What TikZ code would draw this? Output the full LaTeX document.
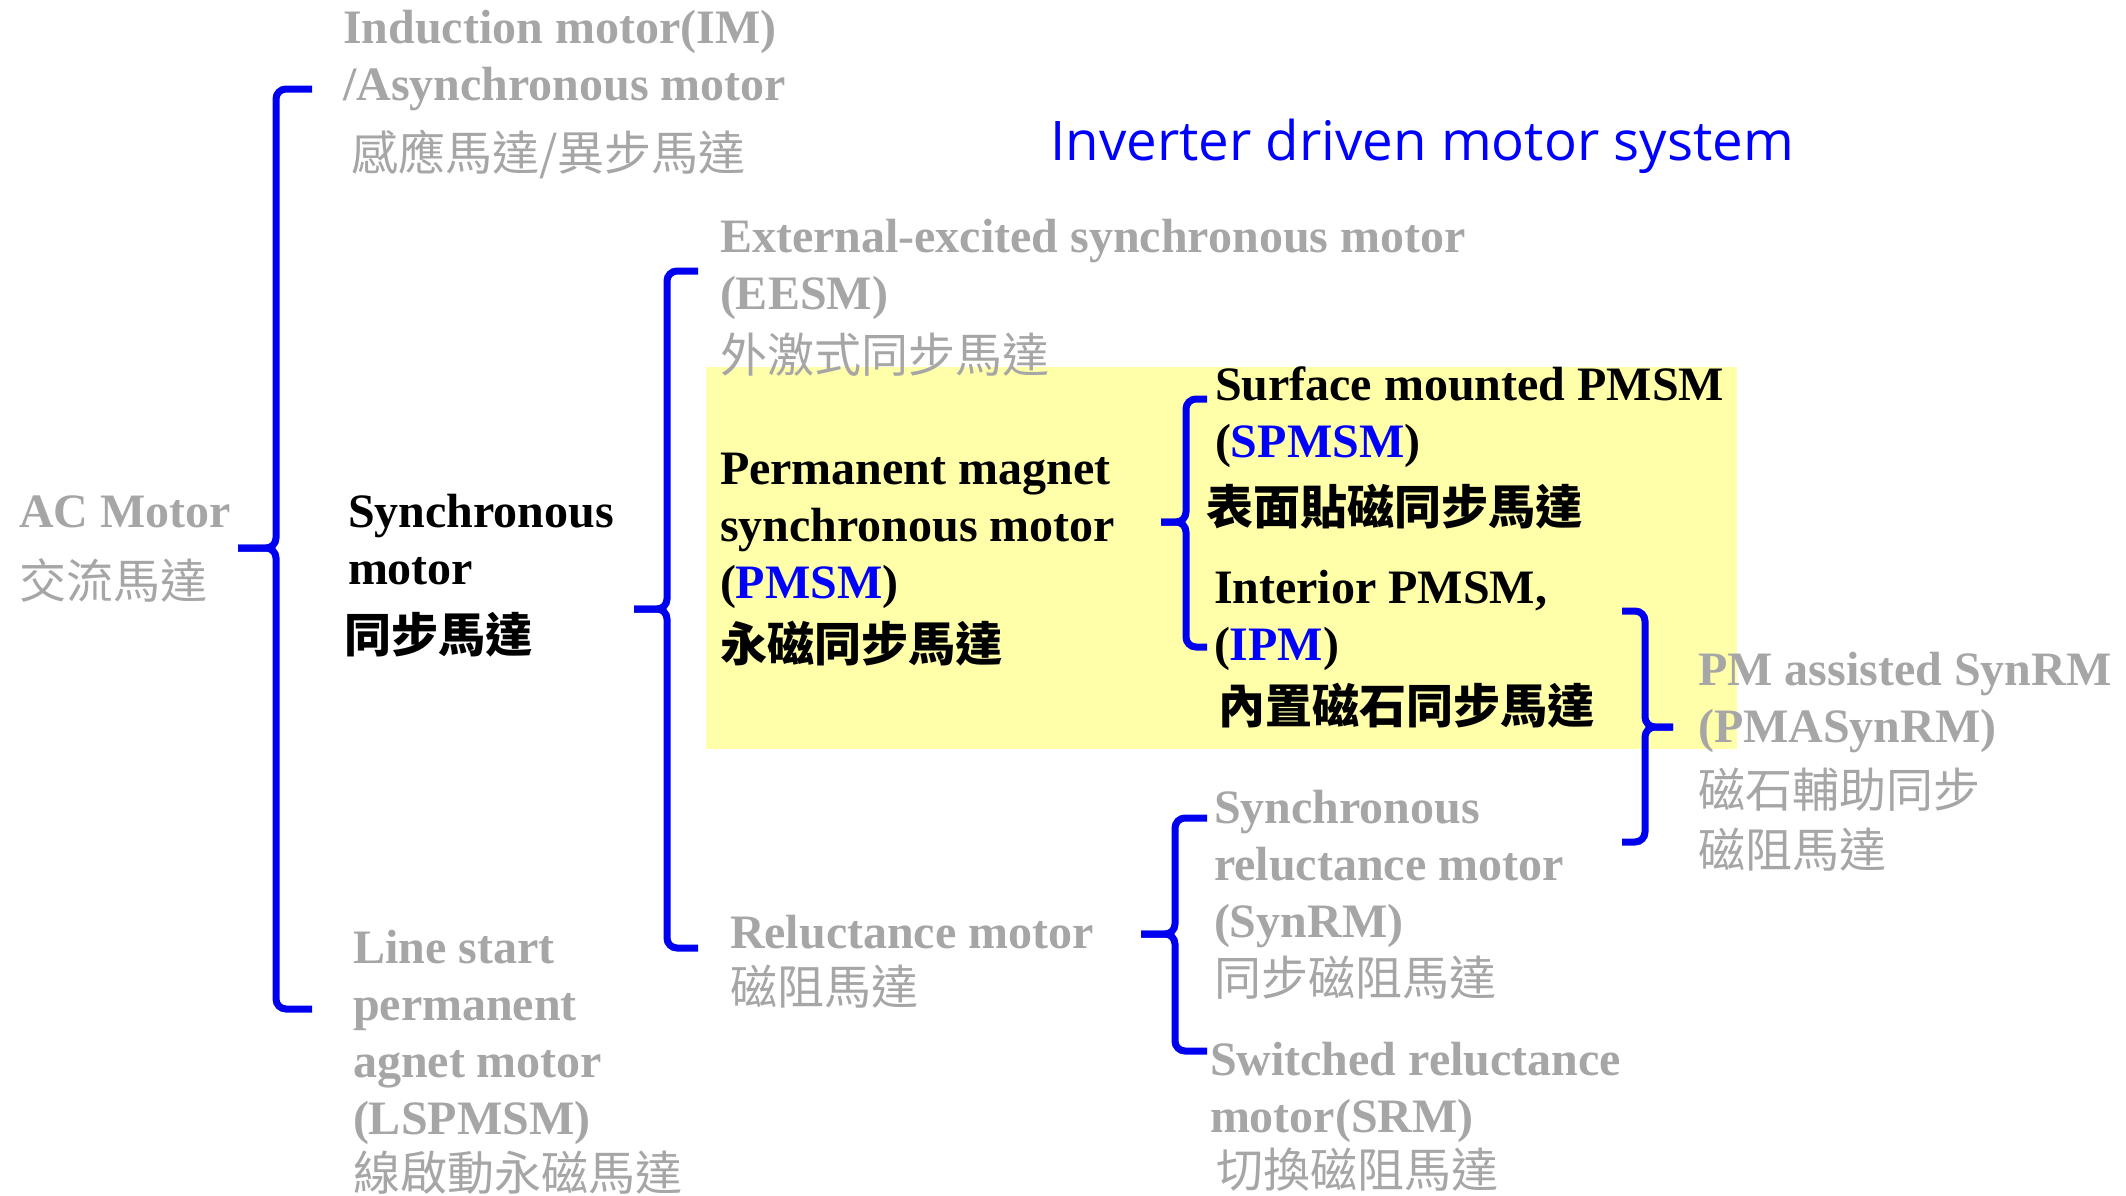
\documentclass[tikz,border=0pt]{standalone}
\usepackage{fontspec}
\setmainfont{Liberation Serif}
\newfontfamily\cjk{Noto Sans CJK TC}
\newfontfamily\titlefont{Open Sans}
\definecolor{txtgray}{HTML}{A6A6A6}
\definecolor{braceblue}{HTML}{0000F0}
\definecolor{titleblue}{HTML}{0000FF}
\definecolor{hiyellow}{HTML}{FFFFAA}
\newcommand\enfont{\fontsize{24}{28.5}\selectfont\bfseries}
\newcommand\zh[1]{{\cjk\mdseries\fontsize{23.5}{28.5}\selectfont #1}}
\newcommand\zhb[1]{{\cjk\bfseries\fontsize{23.5}{28.5}\selectfont #1}}
\newcommand\bl[1]{\textcolor{titleblue}{#1}}
% stacked lines; the baseline is that of the first line
\newcommand\stack[1]{\vtop{\lineskiplimit=-\maxdimen\halign{##\hfil\cr#1\crcr}}}
\newcommand\gap[1]{\noalign{\vskip#1}}
\tikzset{
  lbl/.style={anchor=base west, inner sep=0pt, outer sep=0pt, font=\enfont},
  graylbl/.style={lbl, text=txtgray},
  blacklbl/.style={lbl, text=black},
  bracepath/.style={draw=braceblue, line width=3.5pt, rounded corners=5pt},
}
% \mybrace{vertical x}{top y}{bottom y}{end x}{tip y}{tip x}
\newcommand\mybrace[6]{%
  \draw[bracepath] (#4,#2) -- (#1,#2) -- (#1,#5) -- (#6,#5);
  \draw[bracepath] (#4,#3) -- (#1,#3) -- (#1,#5) -- (#6,#5);
}
\begin{document}
\begin{tikzpicture}[x=0.5pt,y=-0.5pt]
\useasboundingbox (0,0) rectangle (2126,1195);
\fill[hiyellow] (706,367) rectangle (1737,749);

% braces
\mybrace{276}{89}{1009}{312}{548}{238}
\mybrace{667}{271}{948}{698}{609}{634}
\mybrace{1186}{399}{647}{1207}{522}{1161}
\mybrace{1645}{611}{842}{1622}{727}{1673}
\mybrace{1175}{818}{1051}{1207}{934}{1141}

% title
\node[anchor=base west, inner sep=0pt, text=titleblue,
      font=\titlefont\fontsize{27.3}{32}\selectfont] (title) at (1050,160)
  {Inverter driven motor system};

% text blocks
\node[graylbl] (im) at (343,43)
  {\stack{Induction motor(IM)\cr /Asynchronous motor\cr\gap{6.5pt} \hspace*{4pt}\zh{感應馬達/異步馬達}\cr}};
\node[graylbl] (ac) at (19,527)
  {\stack{AC Motor\cr\gap{7pt} \zh{交流馬達}\cr}};
\node[blacklbl] (sm) at (348,527)
  {\stack{Synchronous\cr motor\cr\gap{5.5pt} \hspace*{-2pt}\zhb{同步馬達}\cr}};
\node[graylbl] (eesm) at (720,252)
  {\stack{External-excited synchronous motor\cr (EESM)\cr\gap{3pt} \zh{外激式同步馬達}\cr}};
\node[blacklbl] (pmsm) at (720,484)
  {\stack{Permanent magnet\cr synchronous motor\cr (\bl{PMSM})\cr\gap{3pt} \zhb{永磁同步馬達}\cr}};
\node[blacklbl] (spmsm) at (1215,400)
  {\stack{Surface mounted PMSM\cr (\bl{SPMSM})\cr\gap{5pt} \hspace*{-4.5pt}\zhb{表面貼磁同步馬達}\cr}};
\node[blacklbl] (ipm) at (1214,603)
  {\stack{Interior PMSM,\cr (\bl{IPM})\cr\gap{3pt} \hspace*{2pt}\zhb{內置磁石同步馬達}\cr}};
\node[graylbl] (pma) at (1698,685)
  {\stack{PM assisted SynRM\cr (PMASynRM)\cr\gap{4pt} \zh{磁石輔助同步}\cr\gap{1.5pt} \zh{磁阻馬達}\cr}};
\node[graylbl] (rm) at (730,948)
  {\stack{Reluctance motor\cr\gap{-0.5pt} \zh{磁阻馬達}\cr}};
\node[graylbl] (synrm) at (1214,823)
  {\stack{Synchronous\cr reluctance motor\cr (SynRM)\cr\gap{0.5pt} \zh{同步磁阻馬達}\cr}};
\node[graylbl] (srm) at (1210,1075)
  {\stack{Switched reluctance\cr motor(SRM)\cr\gap{-1pt} \hspace*{3pt}\zh{切換磁阻馬達}\cr}};
\node[graylbl] (ls) at (353,963)
  {\stack{Line start\cr permanent\cr agnet motor\cr (LSPMSM)\cr\gap{-0.5pt} \zh{線啟動永磁馬達}\cr}};
\end{tikzpicture}
\end{document}
